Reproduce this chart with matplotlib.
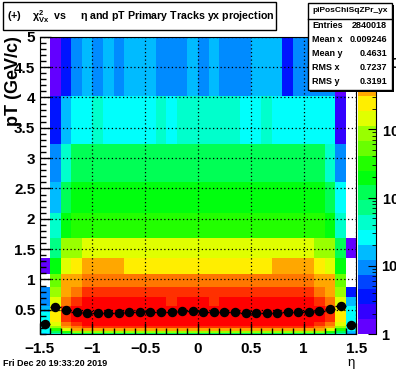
import colorsys
import numpy as np
import matplotlib
matplotlib.use('Agg')
import matplotlib.pyplot as plt
from matplotlib.colors import ListedColormap, BoundaryNorm
from matplotlib.patches import Rectangle
from matplotlib.lines import Line2D
from matplotlib.ticker import MultipleLocator, LogLocator, NullFormatter, FuncFormatter

plt.rcParams['font.family'] = 'Liberation Sans'
plt.rcParams['font.weight'] = 'bold'
plt.rcParams['mathtext.fontset'] = 'custom'
plt.rcParams['mathtext.rm'] = 'Liberation Sans:bold'
plt.rcParams['mathtext.bf'] = 'Liberation Sans:bold'
plt.rcParams['mathtext.it'] = 'Liberation Sans'

# binning
eta_edges = np.linspace(-1.5, 1.5, 31)
pt_edges = [0.1, 0.124, 0.154, 0.192, 0.239, 0.296, 0.368, 0.458, 0.569, 0.707,
            0.879, 1.092, 1.357, 1.687, 2.096, 2.605, 3.238, 4.024, 5.0]

# bin contents, one row per pT bin (low pT first), eta from -1.5 to 1.5
counts = [
    [16, 44, 72, 120, 128, 131, 125, 122, 127, 130, 126, 124, 121, 128, 133, 129, 126, 122, 125, 130, 127, 124, 126, 129, 131, 126, 118, 70, 42, 12],
    [26, 120, 330, 870, 905, 910, 890, 880, 900, 915, 905, 895, 885, 900, 920, 915, 900, 890, 895, 905, 910, 900, 895, 905, 910, 900, 860, 320, 118, 16],
    [28, 330, 1500, 3900, 4100, 4150, 4080, 4050, 4100, 4120, 4090, 4060, 4040, 4080, 4130, 4110, 4070, 4050, 4060, 4090, 4110, 4080, 4070, 4100, 4140, 4090, 3850, 1480, 320, 26],
    [30, 890, 4000, 6800, 11200, 11500, 11100, 10900, 11300, 11600, 11400, 11100, 10900, 11200, 11700, 11500, 11200, 11000, 11100, 11400, 11500, 11200, 11100, 11300, 11600, 11300, 6700, 3950, 880, 28],
    [30, 1500, 6700, 11000, 18000, 18400, 17900, 17600, 18200, 18500, 18300, 17900, 17700, 18100, 18600, 18400, 18000, 17800, 17900, 18300, 18400, 18100, 17900, 18200, 18500, 18200, 11000, 6600, 1480, 30],
    [30, 2400, 11000, 18000, 21500, 22000, 21400, 21000, 21700, 22100, 21900, 21400, 21200, 21600, 22300, 22000, 21500, 21300, 21400, 21900, 22000, 21600, 21400, 21700, 22100, 21700, 18000, 10900, 2380, 30],
    [26, 2400, 11000, 18000, 21800, 22300, 21700, 21300, 22000, 22400, 22200, 21700, 21500, 21900, 22600, 22300, 21800, 21600, 21700, 22200, 22300, 21900, 21700, 22000, 22400, 22000, 18000, 10900, 2380, 26],
    [16, 2400, 11000, 16500, 18500, 18900, 18300, 18000, 18600, 19000, 18800, 18300, 18100, 18500, 19200, 18900, 18400, 18200, 18300, 18800, 18900, 18500, 18300, 18600, 19000, 18600, 16400, 10900, 2380, 24],
    [10, 1500, 6700, 11000, 15500, 15800, 15300, 15000, 15500, 15900, 15600, 15200, 13500, 15400, 16000, 15700, 13600, 15100, 15200, 15600, 15800, 15400, 15200, 15500, 15900, 15500, 10900, 6600, 1480, 16],
    [10, 890, 4000, 6700, 11000, 11300, 10900, 10700, 11100, 11400, 11200, 10900, 10700, 11000, 11500, 11300, 10900, 10800, 10900, 11200, 11300, 11000, 10900, 11100, 11400, 11100, 6600, 3950, 880, 4],
    [0, 540, 3900, 4000, 6700, 6900, 6600, 6500, 6800, 7000, 6900, 6700, 6600, 6800, 7100, 6900, 6700, 6600, 6700, 6900, 7000, 6800, 6700, 6800, 7000, 6800, 3950, 3800, 530, 0],
    [1, 200, 1500, 2400, 4000, 4100, 3900, 3800, 2500, 2550, 2480, 2420, 2400, 2460, 2560, 2500, 2440, 2400, 2420, 2480, 2520, 2460, 3800, 3900, 4100, 3950, 2380, 1480, 200, 0],
    [0, 72, 890, 890, 1500, 1550, 1480, 1450, 1500, 1560, 1520, 1470, 1440, 1490, 1570, 1530, 1480, 1450, 1470, 1510, 1540, 1490, 1460, 1500, 1550, 1500, 880, 880, 120, 1],
    [0, 44, 200, 330, 330, 340, 325, 320, 330, 345, 335, 325, 318, 330, 350, 340, 328, 320, 325, 335, 340, 330, 322, 332, 345, 332, 325, 198, 44, 0],
    [0, 16, 120, 200, 200, 210, 198, 195, 202, 212, 205, 198, 194, 200, 215, 208, 200, 195, 198, 205, 210, 202, 196, 203, 212, 203, 198, 118, 26, 0],
    [0, 10, 44, 120, 118, 125, 116, 112, 120, 126, 121, 115, 110, 118, 130, 124, 117, 112, 115, 121, 124, 118, 113, 120, 126, 119, 116, 44, 10, 0],
    [0, 3, 16, 26, 28, 36, 27, 26, 29, 30, 28, 36, 27, 38, 40, 44, 38, 36, 37, 28, 30, 36, 28, 29, 30, 27, 26, 26, 2, 0],
    [0, 1, 3, 10, 16, 10, 16, 10, 16, 16, 16, 10, 10, 10, 16, 10, 16, 10, 10, 10, 16, 16, 16, 3, 10, 10, 10, 10, 1, 0],
]

# profile: mean pT per eta bin
prof_mean = [0.26, 0.54, 0.50, 0.461, 0.45, 0.45, 0.45, 0.45, 0.456, 0.456,
             0.456, 0.467, 0.467, 0.472, 0.472, 0.467, 0.467, 0.461, 0.456, 0.45,
             0.45, 0.45, 0.45, 0.456, 0.456, 0.456, 0.472, 0.505, 0.56, 0.25]

stats_name = "piPosChiSqZPr_yx"
stats_labels = ["Entries", "Mean x", "Mean y", "RMS x", "RMS y"]
stats_values = ["2840018", "0.009246", "0.4631", "0.7237", "0.3191"]

W, H = 396, 372


def px(x, y):
    return x / W, 1 - y / H


# ROOT "pretty" palette with 20 contour levels
ncont = 20
colors = []
for i in range(ncont):
    idx = int((i + 0.99) * 50 / ncont)
    hue = 280 - (idx + 1) * 280 / 50
    colors.append(colorsys.hls_to_rgb(hue / 360, 0.5, 1.0))
cmap = ListedColormap(colors)

z = np.ma.masked_less(np.array(counts, dtype=float), 1)
zmax = z.max()
bounds = np.logspace(0, np.log10(zmax), ncont + 1)
norm = BoundaryNorm(bounds, ncont)

fig = plt.figure(figsize=(W / 100, H / 100), dpi=100)
ax = fig.add_axes([0.1, 0.102, 0.8, 0.799])
ax.pcolormesh(eta_edges, pt_edges, z, cmap=cmap, norm=norm, antialiased=False)

eta_c = 0.5 * (eta_edges[:-1] + eta_edges[1:])
ax.errorbar(eta_c, prof_mean, xerr=0.05, fmt='o', color='k', ms=5.8,
            elinewidth=1, capsize=0, zorder=5)

ax.set_xlim(-1.5, 1.5)
ax.set_ylim(0.1, 5)
ax.xaxis.set_major_locator(MultipleLocator(0.5))
ax.xaxis.set_minor_locator(MultipleLocator(0.1))
ax.yaxis.set_major_locator(MultipleLocator(0.5))
ax.yaxis.set_minor_locator(MultipleLocator(0.1))
ax.tick_params(which='both', direction='in', width=1, labelsize=11)
ax.tick_params(which='major', length=8)
ax.tick_params(which='minor', length=4)
ax.tick_params(axis='x', pad=6)
ax.tick_params(axis='y', pad=3)
ax.grid(True, which='major', color='k', linestyle=(0, (1, 2)), linewidth=0.9)
ax.set_axisbelow(False)
ax.yaxis.set_major_formatter(FuncFormatter(lambda v, p: f"{v:g}"))
ax.xaxis.set_major_formatter(FuncFormatter(lambda v, p: f"{v:g}".replace('-', '\u2212')))

# colour scale
cax = fig.add_axes([px(358, 0)[0], 0.102, 18 / W, 0.799])
mid = np.sqrt(bounds[:-1] * bounds[1:])
cax.pcolormesh([0, 1], bounds, mid.reshape(-1, 1), cmap=cmap, norm=norm,
               antialiased=False)
cax.set_yscale('log')
cax.set_ylim(1, zmax)
cax.set_xlim(0, 1)
cax.set_xticks([])
cax.yaxis.set_ticks_position('right')
cax.set_yticks([1, 10, 100, 1000, 10000])
cax.set_yticklabels(['1', '10', r'$10^{2}$', r'$10^{3}$', r'$10^{4}$'])
cax.yaxis.set_minor_locator(LogLocator(subs=range(2, 10)))
cax.yaxis.set_minor_formatter(NullFormatter())
cax.tick_params(axis='y', which='both', direction='in', labelsize=10.5, pad=4)
cax.tick_params(axis='y', which='major', length=6)
cax.tick_params(axis='y', which='minor', length=3)
for s in ['left', 'top', 'bottom']:
    cax.spines[s].set_visible(False)

# axis titles
fig.text(*px(351, 366), '\u03b7', fontsize=9.5, fontweight='normal',
         ha='center', va='baseline')
fig.text(*px(14, 36), 'pT (GeV/c)', fontsize=13, rotation=90,
         ha='center', va='top')

# title box
x0, y0, x1, y1 = 3, 2, 276, 30
fig.add_artist(Rectangle(px(x0 + 1, y1 + 1), (x1 - x0) / W, (y1 - y0) / H,
                         transform=fig.transFigure, facecolor='k', edgecolor='none'))
fig.add_artist(Rectangle(px(x0, y1), (x1 - x0) / W, (y1 - y0) / H,
                         transform=fig.transFigure, facecolor='white',
                         edgecolor='k', linewidth=1))
fig.text(*px(7, 17), r'(+)    $\chi^{2}_{Vx}$  vs     $\eta$ and pT Primary Tracks yx projection',
         fontsize=7.7, ha='left', va='center')

# stats box
x0, y0, x1, y1 = 308, 3, 392, 90
fig.add_artist(Rectangle(px(x0 + 2, y1 + 2), (x1 - x0) / W, (y1 - y0) / H,
                         transform=fig.transFigure, facecolor='k', edgecolor='none'))
fig.add_artist(Rectangle(px(x0, y1), (x1 - x0) / W, (y1 - y0) / H,
                         transform=fig.transFigure, facecolor='white',
                         edgecolor='k', linewidth=1))
fig.add_artist(Line2D([px(x0, 0)[0], px(x1, 0)[0]], [px(0, 19)[1]] * 2,
                      transform=fig.transFigure, color='k', linewidth=1))
fig.text(*px((x0 + x1) / 2, 11), stats_name, fontsize=6, ha='center', va='center')
for i, (lab, val) in enumerate(zip(stats_labels, stats_values)):
    yy = 26 + i * 14
    fig.text(*px(312, yy), lab, fontsize=6.5, ha='left', va='center')
    fig.text(*px(387, yy), val, fontsize=6.5, ha='right', va='center')

fig.text(*px(3, 364), 'Fri Dec 20 19:33:20 2019', fontsize=6.5, ha='left', va='center')

fig.savefig('out.png', dpi=100)
